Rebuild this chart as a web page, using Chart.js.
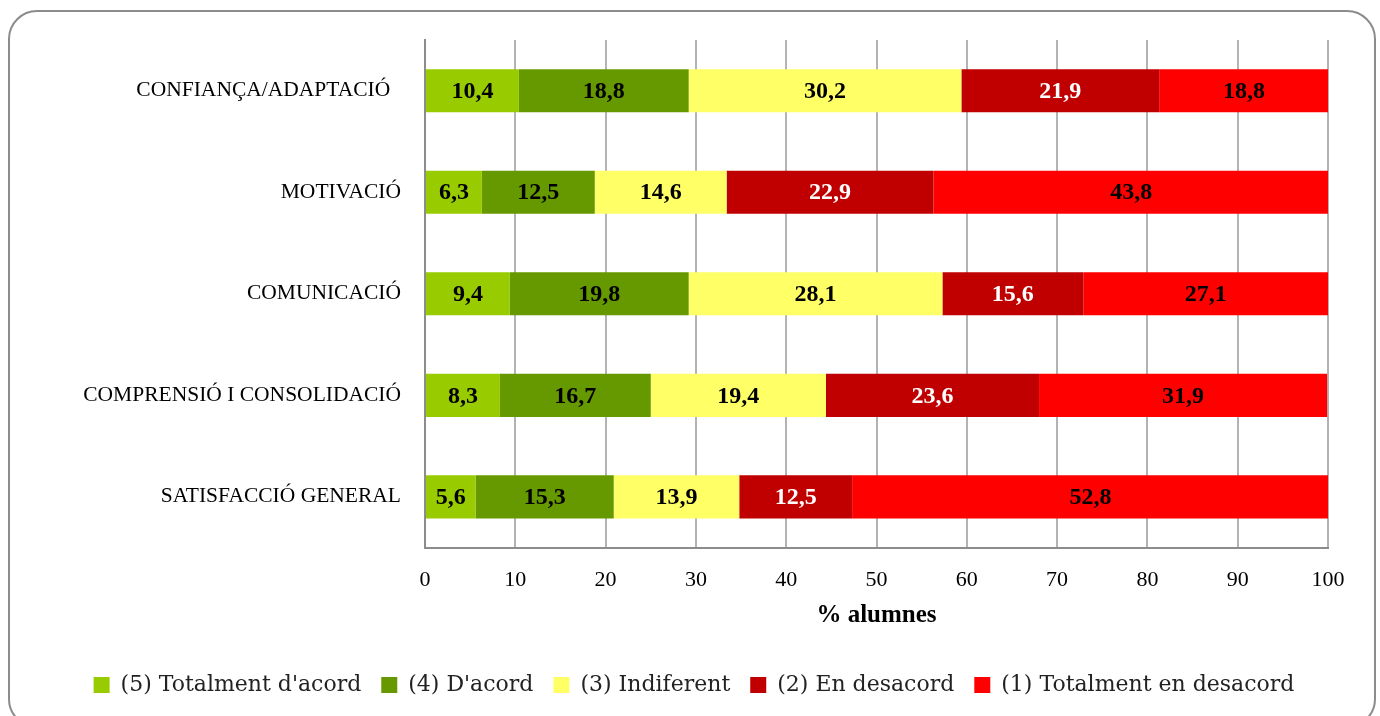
<!DOCTYPE html>
<html>
<head>
<meta charset="utf-8">
<script src="https://cdn.jsdelivr.net/npm/chart.js@4/dist/chart.umd.min.js"></script>
<style>
  html, body { margin: 0; padding: 0; background: #fff; }
  #wrap { width: 1380px; height: 716px; }
</style>
</head>
<body>
<div id="wrap"><canvas id="chart"></canvas></div>
<script>
const categories = ['CONFIANÇA/ADAPTACIÓ  ', 'MOTIVACIÓ', 'COMUNICACIÓ', 'COMPRENSIÓ I CONSOLIDACIÓ', 'SATISFACCIÓ GENERAL'];
const totalmentAcord = [10.4, 6.3, 9.4, 8.3, 5.6];
const acord = [18.8, 12.5, 19.8, 16.7, 15.3];
const indiferent = [30.2, 14.6, 28.1, 19.4, 13.9];
const desacord = [21.9, 22.9, 15.6, 23.6, 12.5];
const totalmentDesacord = [18.8, 43.8, 27.1, 31.9, 52.8];
const xTicks = [0, 10, 20, 30, 40, 50, 60, 70, 80, 90, 100];

const FONT = "'Liberation Serif', serif";

// marc arrodonit + llegenda centrada a tot l'ample
const frame = {
  id: 'frame',
  afterLayout(chart) {
    chart.legend.left = 8;
    chart.legend.right = 1380;
  },
  beforeDraw(chart) {
    const c = chart.ctx;
    c.save();
    c.strokeStyle = '#8c8c8c';
    c.lineWidth = 2;
    c.beginPath();
    c.roundRect(9, 11, 1366, 716, 28);
    c.stroke();
    c.restore();
  }
};

// etiquetes de valor dins les barres
const valueLabels = {
  id: 'valueLabels',
  afterDatasetsDraw(chart) {
    const c = chart.ctx;
    c.save();
    c.font = "bold 24px " + FONT;
    c.textAlign = 'center';
    c.textBaseline = 'middle';
    chart.data.datasets.forEach((ds, i) => {
      const meta = chart.getDatasetMeta(i);
      meta.data.forEach((bar, j) => {
        const v = ds.data[j];
        c.fillStyle = i === 3 ? '#ffffff' : '#000000';
        c.fillText(v.toFixed(1).replace('.', ','), (bar.x + bar.base) / 2, bar.y + 1);
      });
    });
    c.restore();
  }
};

new Chart(document.getElementById('chart'), {
  type: 'bar',
  data: {
    labels: categories,
    datasets: [
      { label: "(5) Totalment d'acord", data: totalmentAcord, backgroundColor: '#99CC00' },
      { label: "(4) D'acord", data: acord, backgroundColor: '#669900' },
      { label: '(3) Indiferent', data: indiferent, backgroundColor: '#FFFF66' },
      { label: '(2) En desacord', data: desacord, backgroundColor: '#C00000' },
      { label: '(1) Totalment en desacord', data: totalmentDesacord, backgroundColor: '#FF0000' }
    ]
  },
  options: {
    indexAxis: 'y',
    responsive: true,
    maintainAspectRatio: false,
    animation: false,
    barPercentage: 1,
    categoryPercentage: 0.425,
    layout: { padding: { top: 40, right: 52, bottom: 10, left: 0 } },
    scales: {
      x: {
        stacked: true,
        min: 0,
        max: 100,
        afterBuildTicks: (s) => { s.ticks = xTicks.map(v => ({ value: v })); },
        grid: { color: '#b3b3b3', lineWidth: 2, drawTicks: false },
        border: { color: '#8c8c8c', width: 2 },
        ticks: { color: '#000', padding: 19, font: { family: FONT, size: 22 } },
        title: {
          display: true,
          text: '% alumnes',
          color: '#000',
          font: { family: FONT, size: 25, weight: 'bold' },
          padding: { top: -11, bottom: 23 }
        }
      },
      y: {
        stacked: true,
        afterFit: (s) => { s.width = 425; },
        grid: { display: false, drawTicks: false },
        border: { color: '#8c8c8c', width: 2 },
        ticks: { color: '#000', padding: 24, font: { family: FONT, size: 21.5 } }
      }
    },
    plugins: {
      legend: {
        position: 'bottom',
        labels: {
          color: '#222',
          boxWidth: 16,
          boxHeight: 16,
          padding: 20,
          font: { family: "'DejaVu Serif', serif", size: 22 }
        }
      },
      tooltip: { enabled: false }
    }
  },
  plugins: [frame, valueLabels]
});
</script>
</body>
</html>
